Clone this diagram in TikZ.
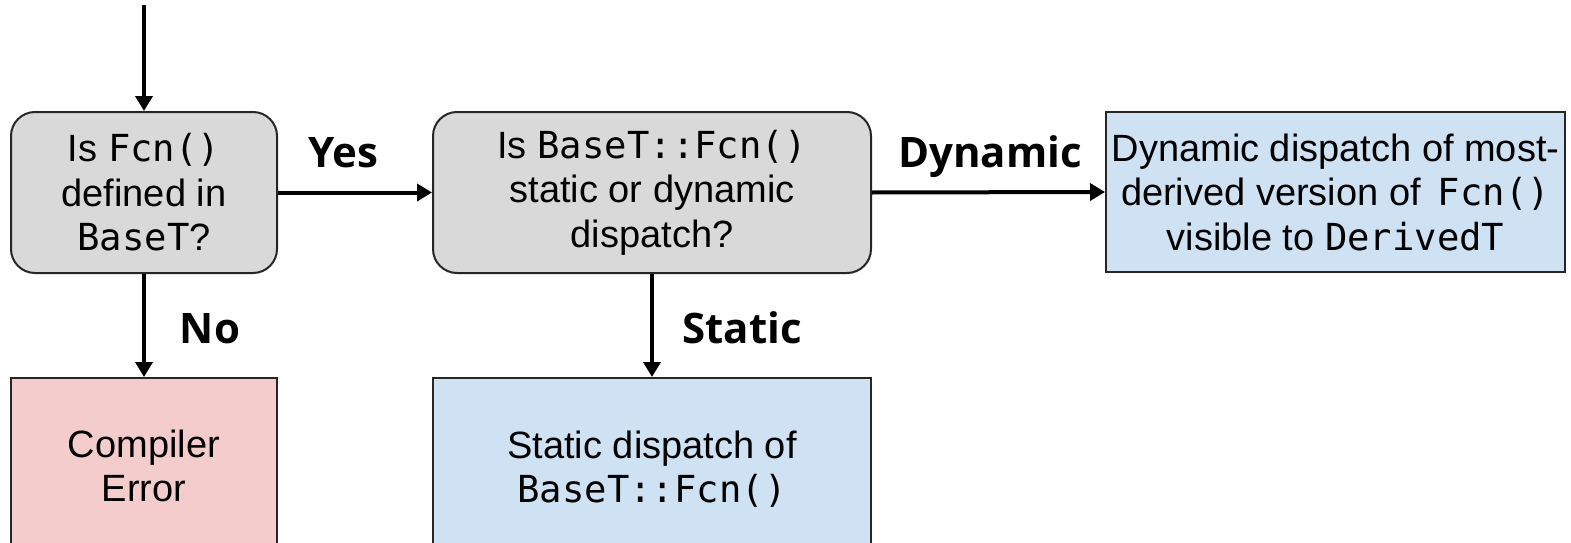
\documentclass[tikz,border=0pt]{standalone}
\usepackage{fontspec}
\setmainfont{Liberation Sans}
\setmonofont{DejaVu Sans Mono}[Scale=0.98]
\newfontfamily\labelfont{Open Sans}
\usetikzlibrary{arrows.meta}
\definecolor{boxgray}{HTML}{D9D9D9}
\definecolor{boxblue}{HTML}{CFE2F3}
\definecolor{boxred}{HTML}{F4CCCC}
\tikzset{
  box/.style={draw=black!85, line width=2pt, align=center, inner sep=0pt,
    font=\fontsize{38}{44.5}\selectfont},
  decision/.style={box, fill=boxgray, rounded corners=24pt},
  outcome/.style={box, fill=boxblue},
  failure/.style={box, fill=boxred},
  flow/.style={line width=4pt, -{Triangle[width=17pt,length=15pt]}},
  lbl/.style={font=\labelfont\bfseries\fontsize{42}{48}\selectfont, anchor=base, inner sep=0pt},
}
\begin{document}
\begin{tikzpicture}[x=1pt,y=-1pt]
\useasboundingbox (0,0) rectangle (1571,543);
\node[decision, minimum width=266pt, minimum height=161pt] (q1) at (144,192.5)
  {Is \texttt{Fcn()}\\defined in\\\texttt{BaseT}?};
\node[decision, minimum width=438pt, minimum height=161pt] (q2) at (652,192.5)
  {Is \texttt{BaseT::Fcn()}\\static or dynamic\\dispatch?};
\node[outcome, minimum width=459pt, minimum height=160pt] (dyn) at (1335.5,192)
  {Dynamic dispatch of most-\\derived version of \,\texttt{Fcn()}\\visible to \texttt{DerivedT}};
\node[failure, minimum width=266pt, minimum height=176pt] (err) at (144,466)
  {Compiler\\Error};
\node[outcome, minimum width=438pt, minimum height=182pt] (sta) at (652,469)
  {Static dispatch of\\\texttt{BaseT::Fcn()}};
\coordinate (start) at (144,5);
\draw[flow] (start) -- (q1.north);
\draw[flow] (q1.east) -- (q2.west);
\draw[flow] (q2.east) -- (dyn.west);
\draw[flow] (q1.south) -- (err.north);
\draw[flow] (q2.south) -- (sta.north);
\node[lbl] (yes) at (343,167) {Yes};
\node[lbl] (dynlbl) at (990,167) {Dynamic};
\node[lbl] (no) at (210,343) {No};
\node[lbl] (stlbl) at (742,343) {Static};
\end{tikzpicture}
\end{document}
